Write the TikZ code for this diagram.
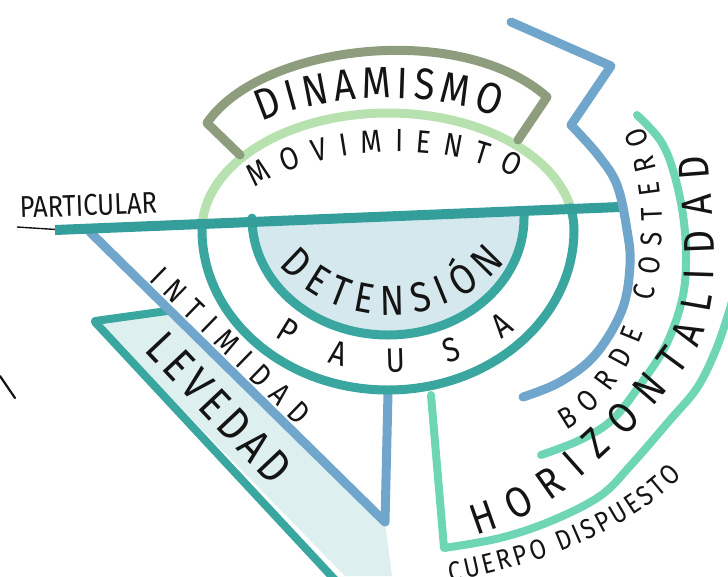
\documentclass[tikz,border=0pt]{standalone}
\usepackage{fontspec}
\newfontfamily\hand[FakeStretch=0.85]{Fira Sans}
\usetikzlibrary{decorations.text}
\definecolor{cteal}{RGB}{52,158,155}
\definecolor{cring}{RGB}{58,166,160}
\definecolor{cgreen}{RGB}{183,225,175}
\definecolor{colive}{RGB}{143,157,127}
\definecolor{cblue}{RGB}{112,165,204}
\definecolor{caqua}{RGB}{110,214,180}
\definecolor{cinner}{RGB}{213,232,238}
\definecolor{clev}{RGB}{222,239,240}
\definecolor{cink}{RGB}{20,20,20}
\newcommand\fPar{\hand\fontsize{30pt}{30pt}\selectfont}
\newcommand\fDin{\hand\fontsize{44pt}{44pt}\selectfont}
\newcommand\fMov{\hand\fontsize{32pt}{32pt}\selectfont}
\newcommand\fDet{\hand\fontsize{42pt}{42pt}\selectfont}
\newcommand\fPau{\hand\fontsize{34pt}{34pt}\selectfont}
\newcommand\fInt{\hand\fontsize{31pt}{31pt}\selectfont}
\newcommand\fLev{\hand\fontsize{46pt}{46pt}\selectfont}
\newcommand\fBor{\hand\fontsize{30pt}{30pt}\selectfont}
\newcommand\fHor{\hand\fontsize{43pt}{43pt}\selectfont}
\newcommand\fCue{\hand\fontsize{28pt}{28pt}\selectfont}
\tikzset{
  stroke/.style={line width=9pt, line cap=round, line join=round},
  curvetext/.style={decorate, decoration={text along path, text align=fit to path, text color=cink}},
}
\begin{document}
\begin{tikzpicture}[x=1pt,y=1pt]
\useasboundingbox (0,-576) rectangle (728,0);
% fills
\fill[clev] (95,-320) -- (167,-309) -- (385,-522) -- (392,-576) -- (345,-576) -- cycle;
\fill[cinner] (252,-225) -- (252,-218) arc[start angle=180,end angle=360,x radius=136,y radius=117] -- (524,-212) -- cycle;
% levedad band edges
\draw[stroke, cring, line width=8pt] (95,-321) -- (167,-311);
\draw[stroke, cring, line width=8pt] (95,-322) -- (350,-596);
% blue V
\draw[stroke, cblue] (90,-232) -- (385,-522) -- (388,-393);
% inner half disc outline
\draw[stroke, cring] (252,-222) -- (252,-218) arc[start angle=180,end angle=360,x radius=136,y radius=117] -- (524,-214);
% outer ring
\draw[stroke, cgreen] (570.6,-207.7) arc[start angle=11,end angle=180,x radius=186,y radius=117];
\draw[stroke, cring] (202,-230) arc[start angle=180,end angle=360,x radius=186,y radius=160] arc[start angle=0,end angle=11,x radius=186,y radius=117];
% horizontal line
\draw[cink, line width=1.4pt] (17,-227) -- (56,-229.5);
\draw[stroke, cteal, line width=10pt, line cap=butt] (55,-230) -- (620,-207);
% dinamismo bracket
\draw[stroke, colive] (240,-155) -- (207,-123) .. controls (260,-45) and (460,-20) .. (547,-97) -- (518,-140);
% blue zigzag
\draw[stroke, cblue] (511,-22) -- (611,-66) -- plot[smooth, tension=0.6] coordinates {(571,-125) (598,-155) (617,-185) (627,-230) (630,-265) (622,-310) (595,-355) (560,-382) (523,-397)};
% aqua arcs
\draw[stroke, caqua, line width=8pt] plot[smooth, tension=0.6] coordinates {(637,-115) (660,-140) (673,-170) (683,-215) (686,-260) (682,-300) (666,-345) (640,-385) (612,-420) (580,-440) (541,-455)};
\draw[stroke, caqua, line width=8pt] (431,-395) -- (444,-548) -- plot[smooth, tension=0.6] coordinates {(444,-548) (500,-538) (551,-521) (600,-496) (631,-465) (670,-420) (697,-388) (715,-352) (728,-315) (735,-290)};
% left mark
\draw[cink, line width=2.2pt, line cap=round] (0,-376) -- (15,-398);
% texts
\node[font=\fPar, text=cink, anchor=base west, rotate=2, inner sep=0pt] (particular) at (20,-218) {PARTICULAR};
\path[curvetext, decoration={text={|\fDin|DINAMISMO}}] (262,-122) .. controls (320,-95) and (430,-88) .. (497,-117);
\path[curvetext, decoration={text={|\fMov|MOVIMIENTO}}] (255,-188) .. controls (320,-145) and (440,-138) .. (515,-178);
\path[curvetext, decoration={text={|\fDet|DETENSIÓN}}] (390,-165) ++(222:150) arc[start angle=222,end angle=320,radius=150];
\path[curvetext, decoration={text={|\fPau|PAUSA}}] (390,-165) ++(236:207) arc[start angle=236,end angle=307,radius=207];
\path[curvetext, decoration={text={|\fInt|INTIMIDAD}}] (148,-280) -- (298,-426);
\path[curvetext, decoration={text={|\fLev|LEVEDAD}}] (143,-350) -- (272,-487);
\path[curvetext, decoration={text={|\fBor|BORDE COSTERO}}] (566,-430) .. controls (650,-385) and (688,-230) .. (643,-126);
\path[curvetext, decoration={text={|\fHor|HORIZONTALIDAD}}] plot[smooth, tension=0.6] coordinates {(476,-535) (520,-518) (565,-490) (605,-455) (643,-418) (675,-381) (699,-345) (711,-305) (714,-260) (712,-210) (708,-155)};
\path[curvetext, decoration={text={|\fCue|CUERPO DISPUESTO}}] (450,-582) .. controls (540,-565) and (628,-532) .. (682,-476);
\end{tikzpicture}
\end{document}
